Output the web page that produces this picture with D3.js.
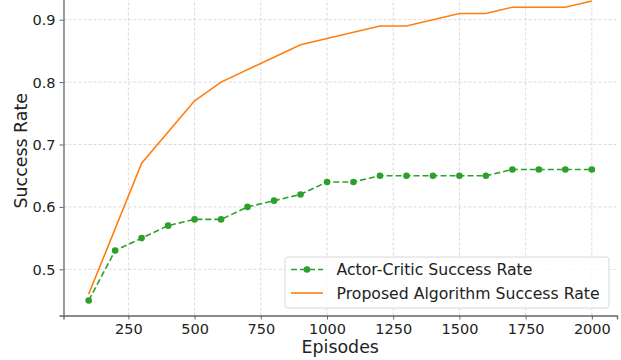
<!DOCTYPE html>
<html>
<head>
<meta charset="utf-8">
<script src="https://cdn.jsdelivr.net/npm/d3@7"></script>
<style>
  body { margin: 0; background: #fff; }
  svg { display: block; font-family: "DejaVu Sans", sans-serif; }
</style>
</head>
<body>
<script>
// data
const acEpisodes = [100, 200, 300, 400, 500, 600, 700, 800, 900, 1000, 1100, 1200, 1300, 1400, 1500, 1600, 1700, 1800, 1900, 2000];
const acRate = [0.45, 0.53, 0.55, 0.57, 0.58, 0.58, 0.60, 0.61, 0.62, 0.64, 0.64, 0.65, 0.65, 0.65, 0.65, 0.65, 0.66, 0.66, 0.66, 0.66];
const propEpisodes = [100, 300, 500, 600, 900, 1200, 1300, 1500, 1600, 1700, 1900, 2000];
const propRate = [0.46, 0.67, 0.77, 0.80, 0.86, 0.89, 0.89, 0.91, 0.91, 0.92, 0.92, 0.93];
const xTicks = [250, 500, 750, 1000, 1250, 1500, 1750, 2000];
const yTicks = [0.5, 0.6, 0.7, 0.8, 0.9];
const seriesNames = ["Actor-Critic Success Rate", "Proposed Algorithm Success Rate"];

let width = 621, height = 360;
let margin = ({top: -14, right: 4, bottom: 44.5, left: 63.5});
let svg = d3.select("body").append("svg").attr("width", width).attr("height", height);

let x = d3.scaleLinear().domain([5, 2095]).range([margin.left, width - margin.right]);
let y = d3.scaleLinear().domain([0.426, 0.954]).range([height - margin.bottom, margin.top]);

let green = "#2ca02c", orange = "#ff7f0e";

// grid
let grid = svg.append("g").attr("stroke", "#d0d0d0").attr("stroke-width", 0.8).attr("stroke-dasharray", "3,2");
grid.selectAll("line.gx").data(xTicks).join("line")
    .attr("x1", d => x(d)).attr("x2", d => x(d))
    .attr("y1", y.range()[0]).attr("y2", y.range()[1]);
grid.selectAll("line.gy").data(yTicks).join("line")
    .attr("y1", d => y(d)).attr("y2", d => y(d))
    .attr("x1", x.range()[0]).attr("x2", x.range()[1]);

// axes
let xAxis = svg.append("g")
    .attr("transform", `translate(0,${y.range()[0]})`)
    .call(d3.axisBottom(x).tickValues(xTicks).tickSize(4).tickPadding(4).tickFormat(d3.format("d")));
let yAxis = svg.append("g")
    .attr("transform", `translate(${x.range()[0]},0)`)
    .call(d3.axisLeft(y).tickValues(yTicks).tickSize(4).tickPadding(4).tickFormat(d3.format(".1f")));
[xAxis, yAxis].forEach(a => {
    a.select(".domain").attr("stroke", "#666").attr("stroke-width", 1.3);
    a.selectAll(".tick line").attr("stroke", "#666");
    a.selectAll(".tick text").attr("fill", "#222").attr("font-size", 14.5).attr("font-family", "DejaVu Sans");
});
yAxis.selectAll(".tick text").attr("dy", "0.35em");

svg.append("text")
    .attr("x", (x.range()[0] + x.range()[1]) / 2)
    .attr("y", 353)
    .attr("text-anchor", "middle")
    .attr("font-size", 17.4).attr("fill", "#222")
    .text("Episodes");
svg.append("text")
    .attr("transform", `translate(27,${(y.range()[0] + y.range()[1]) / 2}) rotate(-90)`)
    .attr("text-anchor", "middle")
    .attr("font-size", 17.4).attr("fill", "#222")
    .text("Success Rate");

// lines
let acData = acEpisodes.map((e, i) => ({e, v: acRate[i]}));
let propData = propEpisodes.map((e, i) => ({e, v: propRate[i]}));
let line = d3.line().x(d => x(d.e)).y(d => y(d.v));

svg.append("path").datum(acData)
    .attr("fill", "none").attr("stroke", green).attr("stroke-width", 1.6)
    .attr("stroke-dasharray", "6,3")
    .attr("d", line);
svg.append("g").selectAll("circle").data(acData).join("circle")
    .attr("cx", d => x(d.e)).attr("cy", d => y(d.v)).attr("r", 3.3)
    .attr("fill", green);
svg.append("path").datum(propData)
    .attr("fill", "none").attr("stroke", orange).attr("stroke-width", 1.6)
    .attr("d", line);

// legend
let lg = svg.append("g").attr("transform", "translate(285,257)");
lg.append("rect").attr("width", 324).attr("height", 51).attr("rx", 3)
    .attr("fill", "white").attr("fill-opacity", 0.8)
    .attr("stroke", "#d8d8d8").attr("stroke-width", 1);
let rows = lg.selectAll("g.row").data(seriesNames).join("g")
    .attr("transform", (d, i) => `translate(0,${12.5 + i * 23.5})`);
rows.append("line").attr("x1", 6).attr("x2", 38)
    .attr("stroke", (d, i) => i === 0 ? green : orange).attr("stroke-width", 1.6)
    .attr("stroke-dasharray", (d, i) => i === 0 ? "6,3" : null);
rows.filter((d, i) => i === 0).append("circle").attr("cx", 22).attr("r", 3.3).attr("fill", green);
rows.append("text").attr("x", 51.5).attr("dy", "0.35em")
    .attr("font-size", 15.7).attr("fill", "#222")
    .text(d => d);
</script>
</body>
</html>
